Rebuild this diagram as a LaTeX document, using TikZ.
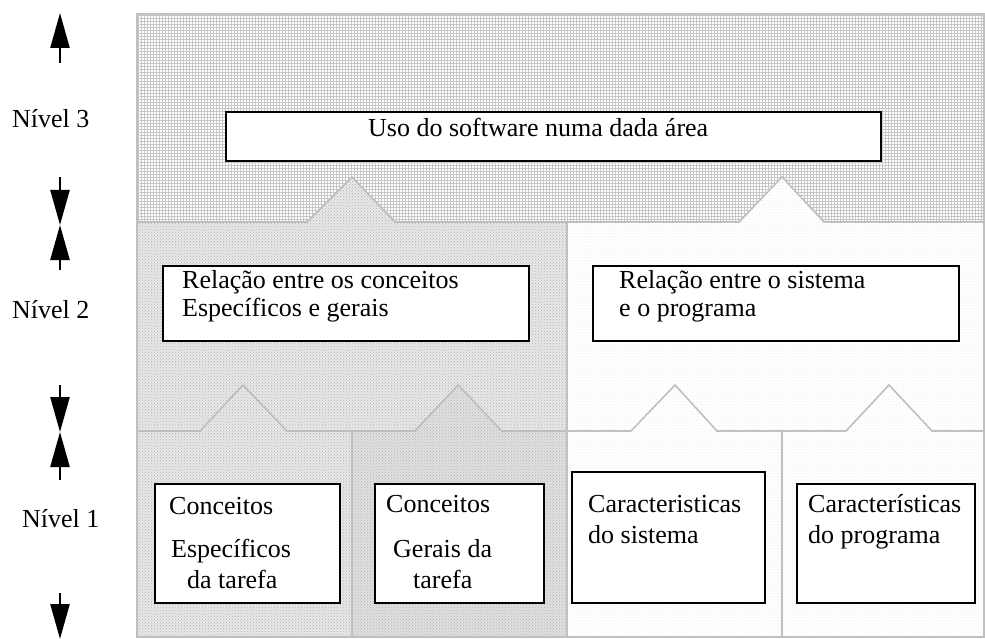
\documentclass[tikz,border=0pt]{standalone}
\usepackage{fontspec}
\setmainfont{Liberation Serif}
\usetikzlibrary{patterns,arrows.meta}
\tikzset{
  edge/.style={draw=black!25,line width=1.6pt,line join=miter},
  gridfill/.style={edge,fill=white,postaction={pattern=grid,pattern color=black!22}},
  densefill/.style={edge,fill=black!9,postaction={pattern=crosshatch dots,pattern color=black!30}},
  lightfill/.style={edge,fill=white,postaction={pattern=dots,pattern color=black!14}},
  box/.style={draw,fill=white,line width=1.6pt,inner sep=0pt,anchor=north west},
  lbl/.style={inner sep=0pt,anchor=base west,font=\fontsize{26}{31}\selectfont},
  levelarrow/.style={line width=2.4pt,-{Triangle[width=19pt,length=35pt]}}
}
\begin{document}
\begin{tikzpicture}[x=1pt,y=-1pt]
\useasboundingbox (0,0) rectangle (985,639);

% level 3:
\path[gridfill] (137,14) -- (984,14) -- (984,222) -- (137,222) -- cycle;

% level 2:
\path[densefill] (137,222) -- (307,222) -- (352,177) -- (395,222) -- (567,222)
  -- (567,431) -- (137,431) -- cycle;
\path[lightfill] (567,222) -- (739,222) -- (782,177) -- (824,222) -- (984,222)
  -- (984,431) -- (567,431) -- cycle;

% level 1:
\path[densefill] (137,431) -- (200,431) -- (243,385) -- (287,431) -- (352,431)
  -- (352,637) -- (137,637) -- cycle;
\path[densefill,fill=black!12] (352,431) -- (415,431) -- (458,385) -- (502,431) -- (567,431)
  -- (567,637) -- (352,637) -- cycle;
\path[lightfill] (567,431) -- (631,431) -- (675,385) -- (717,431) -- (782,431)
  -- (782,637) -- (567,637) -- cycle;
\path[lightfill] (782,431) -- (846,431) -- (889,385) -- (932,431) -- (984,431)
  -- (984,637) -- (782,637) -- cycle;

% boxes:
\node[box,minimum width=655,minimum height=49] (area) at (225,111) {};
\node[lbl] (areatxt) at (368,137) {Uso do software numa dada área};

\node[box,minimum width=366,minimum height=75] (relconc) at (162,265) {};
\node[lbl] (relconca) at (182,288) {Relação entre os conceitos};
\node[lbl] (relconcb) at (182,316) {Específicos e gerais};

\node[box,minimum width=366,minimum height=75] (relsis) at (592,265) {};
\node[lbl] (relsisa) at (619,288) {Relação entre o sistema};
\node[lbl] (relsisb) at (619,316) {e o programa};

\node[box,minimum width=185,minimum height=119] (especif) at (154,483) {};
\node[lbl] (especifa) at (169,514) {Conceitos};
\node[lbl] (especifb) at (171,557) {Específicos};
\node[lbl] (especifc) at (187,588) {da tarefa};

\node[box,minimum width=169,minimum height=119] (gerais) at (374,483) {};
\node[lbl] (geraisa) at (386,512) {Conceitos};
\node[lbl] (geraisb) at (393,557) {Gerais da};
\node[lbl] (geraisc) at (413,588) {tarefa};

\node[box,minimum width=193,minimum height=131] (sistema) at (571,471) {};
\node[lbl] (sistemaa) at (588,512) {Caracteristicas};
\node[lbl] (sistemab) at (588,543) {do sistema};

\node[box,minimum width=178,minimum height=119] (programa) at (796,483) {};
\node[lbl] (programaa) at (808,512) {Características};
\node[lbl] (programab) at (808,543) {do programa};

% levels:
\node[lbl] (nivtres) at (12,128) {Nível 3};
\node[lbl] (nivdois) at (12,318) {Nível 2};
\node[lbl] (nivum) at (22,527) {Nível 1};

% arrows:
\coordinate (atop) at (60,63);
\coordinate (atoptip) at (60,13);
\coordinate (btop) at (60,177);
\coordinate (bmid) at (60,225);
\coordinate (bbot) at (60,270);
\coordinate (ctop) at (60,385);
\coordinate (cmid) at (60,432);
\coordinate (cbot) at (60,480);
\coordinate (dtop) at (60,593);
\coordinate (dtip) at (60,639);
\draw[levelarrow] (atop) -- (atoptip);
\draw[levelarrow] (btop) -- (bmid);
\draw[levelarrow] (bbot) -- (bmid);
\draw[levelarrow] (ctop) -- (cmid);
\draw[levelarrow] (cbot) -- (cmid);
\draw[levelarrow] (dtop) -- (dtip);
\end{tikzpicture}
\end{document}
